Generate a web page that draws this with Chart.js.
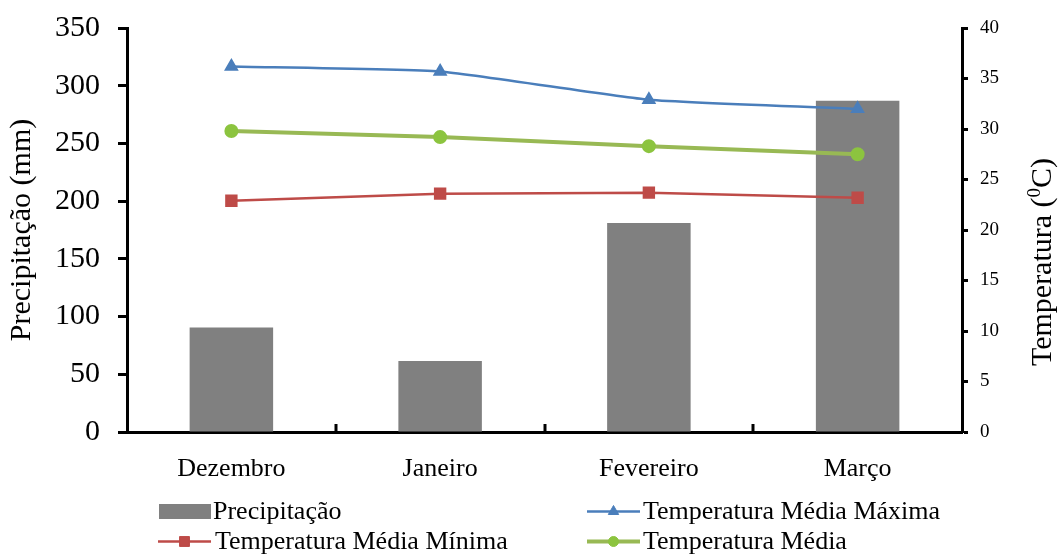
<!DOCTYPE html>
<html><head><meta charset="utf-8">
<script src="https://cdn.jsdelivr.net/npm/chart.js@4.4.1/dist/chart.umd.min.js"></script>
<style>html,body{margin:0;padding:0;background:#fff;}#wrap{position:relative;width:1060px;height:554px;}</style>
</head><body><div id="wrap"><canvas id="c" width="1060" height="554"></canvas></div>
<script>
const categories = ['Dezembro', 'Janeiro', 'Fevereiro', 'Março'];
const precipitacao = [90.5, 61.5, 181, 287];
const tempMaxima = [36.2, 35.7, 32.9, 32.0];
const tempMinima = [22.9, 23.6, 23.7, 23.2];
const tempMedia = [29.8, 29.2, 28.3, 27.5];
const precipAxis = { min: 0, max: 350, step: 50 };
const tempAxis = { min: 0, max: 40, step: 5 };
const seriesNames = ['Precipitação', 'Temperatura Média Máxima', 'Temperatura Média Mínima', 'Temperatura Média'];

const SERIF = "'Liberation Serif', 'Times New Roman', serif";
const C_BAR = '#808080', C_MAX = '#4A7EBB', C_MIN = '#BE4B48', C_MED = '#98B954', C_MED_PT = '#8CC43F';

const extras = {
  id: 'extras',
  afterDraw(chart) {
    const ctx = chart.ctx, ca = chart.chartArea, xs = chart.scales.x;
    ctx.save();
    ctx.strokeStyle = '#000'; ctx.lineWidth = 3;
    for (let i = 1; i < categories.length; i++) {
      const x = Math.round((xs.getPixelForValue(i - 1) + xs.getPixelForValue(i)) / 2);
      ctx.beginPath(); ctx.moveTo(x, ca.bottom); ctx.lineTo(x, ca.bottom - 8); ctx.stroke();
    }
    ctx.translate(1043, 262); ctx.rotate(-Math.PI / 2);
    ctx.fillStyle = '#000'; ctx.textBaseline = 'middle'; ctx.textAlign = 'left';
    const big = '30px ' + SERIF, small = '19px ' + SERIF;
    ctx.font = big; const w1 = ctx.measureText('Temperatura (').width; const w3 = ctx.measureText('C)').width;
    ctx.font = small; const w2 = ctx.measureText('0').width;
    let x0 = -(w1 + w2 + w3) / 2;
    ctx.font = big; ctx.fillText('Temperatura (', x0, 0);
    ctx.font = small; ctx.fillText('0', x0 + w1, -8);
    ctx.font = big; ctx.fillText('C)', x0 + w1 + w2, 0);
    ctx.restore();

    ctx.save();
    ctx.font = '26px ' + SERIF; ctx.fillStyle = '#000'; ctx.textBaseline = 'alphabetic'; ctx.textAlign = 'left';
    const ds = chart.data.datasets;
    ctx.fillStyle = ds[0].backgroundColor; ctx.fillRect(159, 504, 52, 15);
    ctx.fillStyle = '#000'; ctx.fillText(ds[0].label, 213, 519);
    const lineItem = (d, x1, x2, y, tx, ty) => {
      ctx.strokeStyle = d.borderColor; ctx.lineWidth = d.borderWidth;
      ctx.beginPath(); ctx.moveTo(x1, y); ctx.lineTo(x2, y); ctx.stroke();
      ctx.fillStyle = d.pointBackgroundColor; ctx.strokeStyle = d.pointBorderColor; ctx.lineWidth = 1;
      Chart.helpers.drawPoint(ctx, { pointStyle: d.pointStyle, radius: d.pointRadius, rotation: 0, borderWidth: 1 }, (x1 + x2) / 2, y);
      ctx.fillStyle = '#000'; ctx.fillText(d.label, tx, ty);
    };
    lineItem(ds[1], 587, 640, 511.5, 643, 519);
    lineItem(ds[2], 158, 211, 541.5, 215, 549);
    lineItem(ds[3], 587, 640, 541.5, 643, 549);
    ctx.restore();
  }
};

new Chart(document.getElementById('c'), {
  data: {
    labels: categories,
    datasets: [
      { type: 'bar', label: seriesNames[0], data: precipitacao, yAxisID: 'y', backgroundColor: C_BAR,
        barPercentage: 0.4, categoryPercentage: 1.0, order: 10 },
      { type: 'line', label: seriesNames[1], data: tempMaxima, yAxisID: 'y1', borderColor: C_MAX, borderWidth: 2.5,
        pointStyle: 'triangle', pointRadius: 6, pointBackgroundColor: C_MAX, pointBorderColor: C_MAX, tension: 0.15, order: 1 },
      { type: 'line', label: seriesNames[2], data: tempMinima, yAxisID: 'y1', borderColor: C_MIN, borderWidth: 2.5,
        pointStyle: 'rect', pointRadius: 7, pointBackgroundColor: C_MIN, pointBorderColor: C_MIN, tension: 0, order: 2 },
      { type: 'line', label: seriesNames[3], data: tempMedia, yAxisID: 'y1', borderColor: C_MED, borderWidth: 4,
        pointStyle: 'circle', pointRadius: 5, pointBackgroundColor: C_MED_PT, pointBorderColor: C_MED_PT, tension: 0, order: 3 }
    ]
  },
  options: {
    responsive: false, animation: false, devicePixelRatio: 1,
    layout: { padding: { top: 28, left: 0, right: 0, bottom: 0 } },
    plugins: { legend: { display: false }, tooltip: { enabled: false } },
    scales: {
      x: {
        offset: true,
        grid: { display: false, drawTicks: false },
        border: { display: true, color: '#000', width: 3 },
        ticks: { color: '#000', font: { family: SERIF, size: 26 }, padding: 22, maxRotation: 0 },
        afterFit(s) { s.height = 122; s.paddingLeft = 0; s.paddingRight = 0; }
      },
      y: {
        position: 'left', min: precipAxis.min, max: precipAxis.max,
        ticks: { stepSize: precipAxis.step, color: '#000', font: { family: SERIF, size: 30 }, padding: 18 },
        grid: { drawOnChartArea: false, drawTicks: true, tickLength: 9, tickWidth: 3, tickColor: '#000' },
        border: { display: true, color: '#000', width: 3 },
        title: { display: true, text: 'Precipitação (mm)', color: '#000', font: { family: SERIF, size: 30 }, padding: { top: 4, bottom: 0 } },
        afterFit(s) { s.width = 127; s.paddingTop = 0; s.paddingBottom = 0; }
      },
      y1: {
        position: 'right', min: tempAxis.min, max: tempAxis.max,
        ticks: { stepSize: tempAxis.step, color: '#000', font: { family: SERIF, size: 19 }, padding: 12 },
        grid: { drawOnChartArea: false, drawTicks: true, tickLength: 6, tickWidth: 3, tickColor: '#000' },
        border: { display: true, color: '#000', width: 3 },
        afterFit(s) { s.width = 98; s.paddingTop = 0; s.paddingBottom = 0; }
      }
    }
  },
  plugins: [extras]
});
</script></body></html>
